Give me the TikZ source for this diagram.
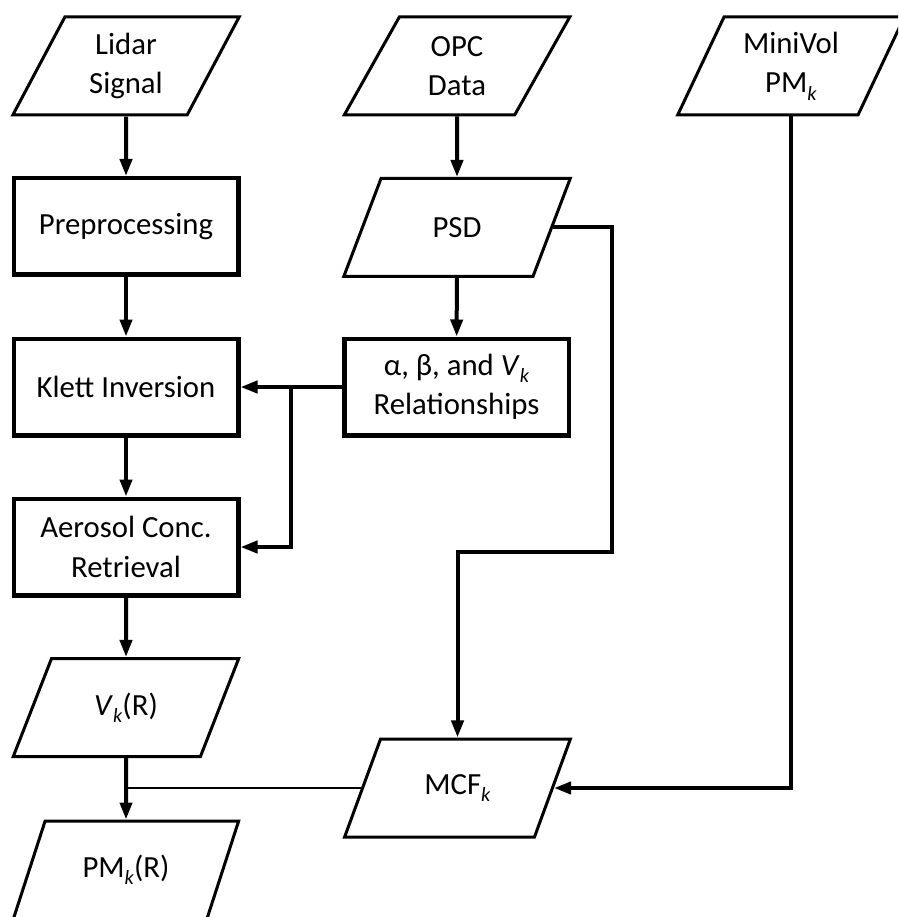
\documentclass[tikz,border=0pt]{standalone}
\usepackage{fontspec}
\setmainfont{Carlito}
\usepackage{tikz}
\usetikzlibrary{arrows.meta,positioning,shapes.geometric,calc}
\newcommand{\lowk}{\raisebox{-0.5ex}{\fontsize{11.5}{11.5}\selectfont\textit{k}}}

\begin{document}
\begin{tikzpicture}[
  every node/.style={font=\fontsize{17.5}{22.5}\selectfont, align=center},
  proc/.style={draw, line width=0.09cm, minimum width=4.49cm, minimum height=1.93cm},
  io/.style={draw, trapezium, trapezium left angle=65, trapezium right angle=115,
    trapezium stretches=true, line width=0.06cm, minimum width=4.54cm, minimum height=1.96cm},
  flow/.style={-{Triangle[length=0.34cm, width=0.24cm]}, line width=0.08cm},
  thinlink/.style={line width=0.045cm}
]
  % page frame (898 x 917 px at 0.02 cm per px)
  \clip (0,0) rectangle (17.96,-18.34);

  % Lidar column
  \node[io] (lidar) at (2.52, -1.32) {Lidar\\Signal};
  \node[proc] (prep) at (2.52, -4.53) {Preprocessing};
  \node[proc] (klett) at (2.52, -7.74) {Klett Inversion};
  \node[proc] (aerosol) at (2.52, -10.94) {Aerosol Conc.\\Retrieval};
  \node[io] (vk) at (2.52, -14.15) {\textit{V}\lowk(R)};
  \node[io] (pm) at (2.52, -17.40) {PM\lowk(R)};

  % OPC column
  \node[io] (opc) at (9.14, -1.32) {OPC\\Data};
  \node[io] (psd) at (9.14, -4.55) {PSD};
  \node[proc] (rel) at (9.13, -7.74) {α, β, and \textit{V}\lowk\\Relationships};
  \node[io] (mcf) at (9.15, -15.76) {MCF\lowk};

  % MiniVol (runs off the right edge)
  \node[io] (mini) at (15.82, -1.32) {MiniVol\\PM\lowk};

  % helper points
  \coordinate (jn) at ($(rel.west)!0.5!(klett.east)$);
  \coordinate (psdr) at (12.24, -11.04);

  % main flow
  \draw[flow] (lidar) -- (prep);
  \draw[flow] (prep) -- (klett);
  \draw[flow] (klett) -- (aerosol);
  \draw[flow] (aerosol) -- (vk);
  \draw[flow] (vk) -- (pm);

  % OPC branch
  \draw[flow] (opc) -- (psd);
  \draw[flow] (psd) -- (rel);
  \draw[flow] (rel.west) -- (klett.east);
  \draw[flow] (jn) |- (aerosol.east);
  \draw[flow] (psd.east) -| (psdr) -| (mcf.north);

  % MiniVol into MCF, MCF into PM
  \draw[flow] (mini.south) |- (mcf.east);
  \draw[thinlink] (mcf.west) -- (mcf.west -| vk.south);

\end{tikzpicture}
\end{document}
